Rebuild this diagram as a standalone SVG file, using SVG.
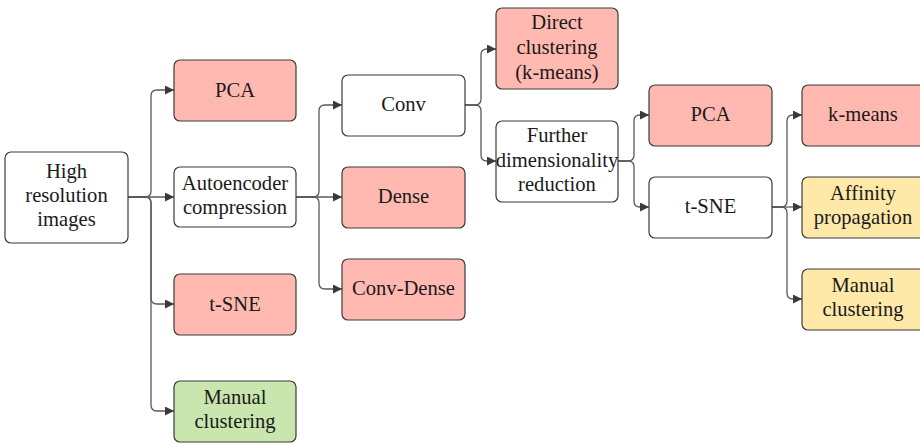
<svg xmlns="http://www.w3.org/2000/svg" width="920" height="443" viewBox="0 0 920 443">
<style>
.n rect{stroke:#3a3a3a;stroke-width:1.2}
.w{fill:#ffffff}.r{fill:#ffb9b1}.g{fill:#c8e6ad}.y{fill:#ffe9a8}
text{font-family:"Liberation Serif","Times New Roman",serif;font-size:20.6px;fill:#1a1a1a;text-anchor:middle}
.c path{fill:none;stroke:#5a5a5a;stroke-width:1.3;marker-end:url(#a)}
</style>
<defs>
<marker id="a" viewBox="0 0 10 10" refX="10" refY="5" markerWidth="11" markerHeight="9" markerUnits="userSpaceOnUse" orient="auto">
<path d="M0,0 L10,5 L0,10 z" fill="#3a3a3a"/>
</marker>
</defs>
<rect width="920" height="443" fill="#ffffff"/>
<g class="c">
<path d="M128 197 H145 Q151 197 151 191 V96 Q151 90 157 90 H174"/>
<path d="M128 197 H174"/>
<path d="M128 197 H145 Q151 197 151 203 V298 Q151 304 157 304 H174"/>
<path d="M128 197 H145 Q151 197 151 203 V405 Q151 411 157 411 H174"/>
<path d="M296 197 H313 Q319 197 319 191 V111 Q319 105 325 105 H342"/>
<path d="M296 197 H342"/>
<path d="M296 197 H313 Q319 197 319 203 V283 Q319 289 325 289 H342"/>
<path d="M465 105 H475 Q481 105 481 99 V55 Q481 49 487 49 H496"/>
<path d="M465 105 H475 Q481 105 481 111 V155 Q481 161 487 161 H496"/>
<path d="M618 161 H628 Q634 161 634 155 V121 Q634 115 640 115 H649"/>
<path d="M618 161 H628 Q634 161 634 167 V201 Q634 207 640 207 H649"/>
<path d="M772 207 H781 Q787 207 787 201 V121 Q787 115 793 115 H802"/>
<path d="M772 207 H802"/>
<path d="M772 207 H781 Q787 207 787 213 V293 Q787 299 793 299 H802"/>
</g>
<g class="n" id="high"><rect class="w" x="5" y="152" width="123" height="91" rx="6"/><text x="66.5" y="178">High</text><text x="66.5" y="202">resolution</text><text x="66.5" y="226">images</text></g>
<g class="n" id="pca1"><rect class="r" x="174" y="60" width="122" height="61" rx="6"/><text x="235" y="97">PCA</text></g>
<g class="n" id="ae"><rect class="w" x="174" y="167" width="122" height="60" rx="6"/><text x="235" y="190">Autoencoder</text><text x="235" y="214">compression</text></g>
<g class="n" id="tsne1"><rect class="r" x="174" y="274" width="122" height="61" rx="6"/><text x="235" y="311">t-SNE</text></g>
<g class="n" id="manual1"><rect class="g" x="174" y="381" width="122" height="61" rx="6"/><text x="235" y="404">Manual</text><text x="235" y="428">clustering</text></g>
<g class="n" id="conv"><rect class="w" x="342" y="75" width="123" height="61" rx="6"/><text x="403.5" y="111">Conv</text></g>
<g class="n" id="dense"><rect class="r" x="342" y="167" width="123" height="61" rx="6"/><text x="403.5" y="203">Dense</text></g>
<g class="n" id="convdense"><rect class="r" x="342" y="259" width="123" height="61" rx="6"/><text x="403.5" y="295">Conv-Dense</text></g>
<g class="n" id="direct"><rect class="r" x="496" y="8" width="122" height="81" rx="6"/><text x="557" y="29">Direct</text><text x="557" y="54">clustering</text><text x="557" y="79">(k-means)</text></g>
<g class="n" id="further"><rect class="w" x="496" y="121" width="122" height="81" rx="6"/><text x="557" y="142">Further</text><text x="557" y="167">dimensionality</text><text x="557" y="191">reduction</text></g>
<g class="n" id="pca2"><rect class="r" x="649" y="85" width="123" height="61" rx="6"/><text x="710.5" y="121">PCA</text></g>
<g class="n" id="tsne2"><rect class="w" x="649" y="177" width="123" height="61" rx="6"/><text x="710.5" y="213">t-SNE</text></g>
<g class="n" id="kmeans"><rect class="r" x="802" y="85" width="125" height="61" rx="6"/><text x="863" y="121">k-means</text></g>
<g class="n" id="affinity"><rect class="y" x="802" y="177" width="125" height="61" rx="6"/><text x="863" y="200">Affinity</text><text x="863" y="224">propagation</text></g>
<g class="n" id="manual2"><rect class="y" x="802" y="269" width="125" height="61" rx="6"/><text x="863" y="292">Manual</text><text x="863" y="316">clustering</text></g>
</svg>
